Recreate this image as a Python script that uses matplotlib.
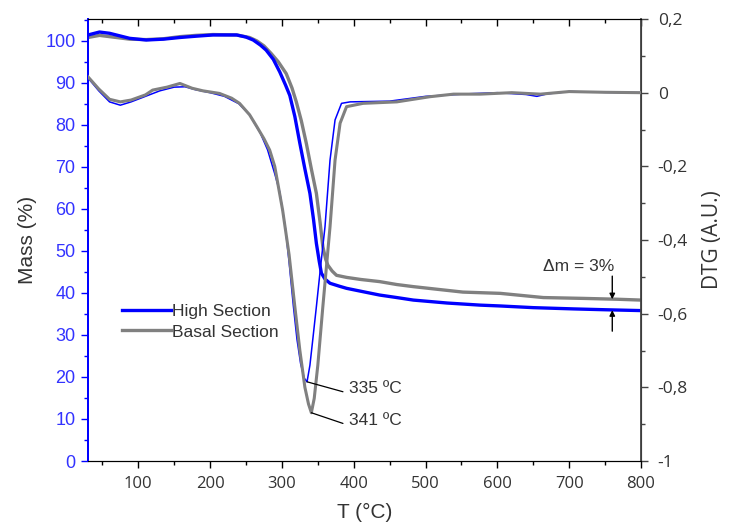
import matplotlib
matplotlib.use("Agg")
import matplotlib.pyplot as plt
from matplotlib.ticker import MultipleLocator
from matplotlib.lines import TICKDOWN

# ---------------- data ----------------
# TG (mass %, left axis)
tg_high_T = [30, 46, 60, 88, 111, 135, 158, 180, 204, 237, 250, 260, 270, 278, 288, 297, 305, 311, 318, 325,
             332, 339, 344, 348, 352, 355, 360, 367, 380, 390, 410, 436, 460, 483, 530, 576, 604, 650, 706, 750, 800]
tg_high_m = [101.4, 102.1, 101.8, 100.6, 100.2, 100.4, 100.8, 101.1, 101.4, 101.4, 100.9, 100.2, 99.0, 97.8, 95.6, 92.6, 89.5, 87.0, 82.0, 75.6,
             69.5, 63.7, 57.5, 51.8, 47.5, 44.7, 43.3, 42.3, 41.6, 41.1, 40.4, 39.5, 38.9, 38.3, 37.6, 37.1, 36.9, 36.5, 36.2, 36.0, 35.8]

tg_basal_T = [30, 46, 60, 88, 111, 135, 158, 180, 204, 237, 255, 265, 275, 285, 295, 306, 314, 320, 327, 334,
              341, 348, 353, 357, 361, 364, 370, 376, 390, 410, 436, 460, 483, 520, 552, 604, 664, 720, 767, 800]
tg_basal_m = [100.8, 101.3, 101.0, 100.4, 100.3, 100.5, 101.0, 101.3, 101.5, 101.4, 100.8, 100.0, 98.8, 97.0, 95.0, 92.2, 88.8, 85.5, 81.0, 75.6,
              69.5, 63.7, 57.0, 51.0, 48.0, 46.6, 45.2, 44.2, 43.7, 43.2, 42.7, 42.0, 41.5, 40.8, 40.2, 39.9, 38.9, 38.7, 38.5, 38.3]

# DTG (A.U., right axis)
dtg_high_T = [30, 45, 60, 75, 90, 110, 130, 150, 165, 180, 200, 220, 240, 255, 270, 280, 290, 297, 305, 310, 316,
              321, 326, 331, 335, 339, 343, 348, 354, 360, 367, 374, 383, 395, 450, 500, 560, 600, 640, 655, 670, 700, 750, 800]
dtg_high_v = [0.040, 0.005, -0.025, -0.034, -0.025, -0.010, 0.005, 0.015, 0.016, 0.008, 0.000, -0.010, -0.030, -0.060, -0.110, -0.155, -0.220, -0.270, -0.370, -0.460, -0.580,
              -0.670, -0.735, -0.775, -0.785, -0.740, -0.670, -0.581, -0.470, -0.364, -0.183, -0.074, -0.029, -0.025, -0.023, -0.010, -0.003, 0.000, -0.005, -0.010, -0.003, 0.003, 0.001, 0.000]

dtg_basal_T = [30, 45, 60, 75, 90, 110, 120, 140, 158, 175, 190, 213, 230, 241, 255, 265, 275, 283, 290, 301, 310,
               318, 325, 332, 337, 341, 345, 350, 357, 367, 374, 381, 390, 413, 460, 506, 539, 576, 620, 660, 700, 750, 800]
dtg_basal_v = [0.043, 0.010, -0.018, -0.025, -0.020, -0.006, 0.007, 0.015, 0.025, 0.012, 0.005, -0.002, -0.015, -0.029, -0.060, -0.092, -0.125, -0.156, -0.200, -0.319, -0.440,
               -0.581, -0.700, -0.800, -0.845, -0.869, -0.830, -0.740, -0.581, -0.364, -0.183, -0.083, -0.038, -0.029, -0.025, -0.011, -0.004, -0.004, 0.000, -0.004, 0.003, 0.001, 0.000]

x_ticks = [100, 200, 300, 400, 500, 600, 700, 800]
left_ticks = [0, 10, 20, 30, 40, 50, 60, 70, 80, 90, 100]
right_ticks = [-1.0, -0.8, -0.6, -0.4, -0.2, 0.0, 0.2]
right_labels = ["-1", "-0,8", "-0,6", "-0,4", "-0,2", "0", "0,2"]

peak_high = (335, -0.785)
peak_basal = (341, -0.869)
dm_T = 760
dm_high = 35.9
dm_basal = 38.5

# ---------------- styling ----------------
BLUE = "#0000ff"
GRAY = "#808080"
TXT = "#333333"
ARIAL = ["Liberation Sans", "DejaVu Sans"]
CALI = ["Open Sans", "DejaVu Sans"]

fig = plt.figure(figsize=(7.32, 5.32), dpi=100)
ax = fig.add_axes([88 / 732, 1 - 461 / 532, (641 - 88) / 732, (461 - 19) / 532])
ax2 = ax.twinx()

# DTG curves
ax2.plot(dtg_basal_T, dtg_basal_v, color=GRAY, lw=2.2, zorder=3)
ax2.plot(dtg_high_T, dtg_high_v, color=BLUE, lw=1.1, zorder=2)
# TG curves
ax.plot(tg_high_T, tg_high_m, color=BLUE, lw=2.4, label="High Section", zorder=3)
ax.plot(tg_basal_T, tg_basal_m, color=GRAY, lw=2.4, label="Basal Section", zorder=2)

ax.set_xlim(30, 800)
ax.set_ylim(0, 105.2)
ax2.set_ylim(-1.0, 0.2)

ax.set_xticks(x_ticks)
ax.set_xticklabels([str(t) for t in x_ticks], fontsize=12, color=TXT, family=CALI)
ax.xaxis.set_minor_locator(MultipleLocator(50))
ax.set_yticks(left_ticks)
ax.set_yticklabels([str(t) for t in left_ticks], fontsize=13, color="#3333ff", family=ARIAL)
ax.yaxis.set_minor_locator(MultipleLocator(5))
ax2.set_yticks(right_ticks)
ax2.set_yticklabels(right_labels, fontsize=12.5, color=TXT, family=CALI)
ax2.yaxis.set_minor_locator(MultipleLocator(0.1))

ax.tick_params(axis="x", which="major", direction="out", length=5, width=1, top=True, pad=6)
ax.tick_params(axis="x", which="minor", direction="out", length=3, width=1, top=True)
ax.tick_params(axis="y", which="major", direction="out", length=5, width=1, color=BLUE, pad=4)
ax.tick_params(axis="y", which="minor", direction="out", length=3, width=1, color=BLUE)
ax2.tick_params(axis="y", which="major", direction="out", length=5, width=1, color="#444444", pad=7)
ax2.tick_params(axis="y", which="minor", direction="out", length=3, width=1, color="#444444")

# top ticks point inward
for t in ax.xaxis.get_major_ticks() + ax.xaxis.get_minor_ticks():
    t.tick2line.set_marker(TICKDOWN)

ax.spines["left"].set_color(BLUE)
ax.spines["left"].set_linewidth(1.3)
ax2.spines["left"].set_color(BLUE)
ax2.spines["left"].set_linewidth(1.3)
ax2.spines["right"].set_color("#444444")
ax2.spines["right"].set_linewidth(1.3)
for s in ("top", "bottom"):
    ax.spines[s].set_color("black")
    ax2.spines[s].set_color("black")

ax.set_xlabel("T (°C)", fontsize=15, color=TXT, family=ARIAL, labelpad=8)
ax.set_ylabel("Mass (%)", fontsize=15, color=TXT, family=ARIAL, labelpad=6)
ax2.set_ylabel("DTG (A.U.)", fontsize=15, color=TXT, family=CALI, labelpad=10)

leg = ax.legend(loc="upper left", bbox_to_anchor=(0.0615, 0.356), frameon=False,
                prop={"family": ARIAL, "size": 12.5}, handlelength=2.8, handletextpad=0.1,
                labelspacing=0.32, borderaxespad=0, borderpad=0)
for t in leg.get_texts():
    t.set_color(TXT)

# peak annotations (leader line + label)
ax2.annotate("", xy=peak_high, xytext=(385, -0.812),
             arrowprops=dict(arrowstyle="-", color="black", lw=0.9, shrinkA=0, shrinkB=0))
ax2.text(393, -0.802, "335 ºC", fontsize=12.5, color=TXT, family=ARIAL, va="center", ha="left")
ax2.annotate("", xy=peak_basal, xytext=(385, -0.898),
             arrowprops=dict(arrowstyle="-", color="black", lw=0.9, shrinkA=0, shrinkB=0))
ax2.text(393, -0.891, "341 ºC", fontsize=12.5, color=TXT, family=ARIAL, va="center", ha="left")

# delta m annotation
ax.annotate("", xy=(dm_T, dm_basal), xytext=(dm_T, dm_basal + 5.5),
            arrowprops=dict(arrowstyle="-|>", color="black", lw=1.0, mutation_scale=8, shrinkA=0, shrinkB=0))
ax.annotate("", xy=(dm_T, dm_high), xytext=(dm_T, dm_high - 5),
            arrowprops=dict(arrowstyle="-|>", color="black", lw=1.0, mutation_scale=8, shrinkA=0, shrinkB=0))
ax.text(713, 46.4, "Δm = 3%", fontsize=12.5, color=TXT, family=ARIAL, ha="center", va="center")

fig.savefig("out.png", dpi=100)
